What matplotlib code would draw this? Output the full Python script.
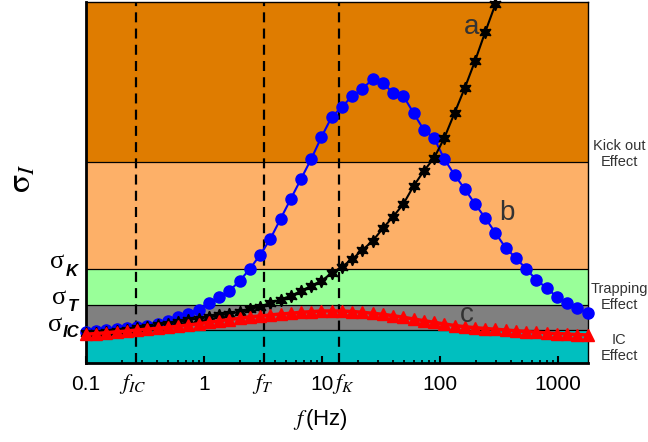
import matplotlib
matplotlib.use('Agg')
import matplotlib.pyplot as plt

plt.rcParams['font.family'] = ['Liberation Sans', 'DejaVu Sans']
plt.rcParams['mathtext.fontset'] = 'stix'

# ---- data (sigma in arbitrary units) ----
freq = [0.1, 0.1221, 0.1491, 0.1821, 0.2223, 0.2715, 0.3315, 0.4048, 0.4943, 0.6036,
        0.7371, 0.9001, 1.099, 1.342, 1.639, 2.001, 2.444, 2.984, 3.644, 4.449,
        5.433, 6.634, 8.101, 9.892, 12.08, 14.75, 18.01, 21.99, 26.86, 32.79,
        40.05, 48.90, 59.71, 72.92, 89.04, 108.7, 132.8, 162.1, 198.0, 241.7,
        295.2, 360.5, 440.2, 537.5, 656.4, 801.5, 978.7, 1195, 1459, 1782]

sigma_a = [30, 30.5, 31.5, 32.5, 33.5, 35, 36.5, 38, 39.5, 41,
           43, 44.5, 46, 47.7, 49, 51.3, 54, 56.3, 60, 63.5,
           67, 72, 77, 82.3, 89.7, 96.3, 103.7, 113, 122, 134.7,
           146.3, 159, 177, 192, 205, 225, 250, 275, 302, 331, 359]

sigma_b = [31, 32, 33, 34, 35, 36, 37.5, 39, 42, 46,
           49.5, 53.5, 60, 66, 72, 82, 94, 108, 124, 144,
           164, 184, 204, 226, 246, 256, 267, 274, 284, 280,
           270, 267, 250, 233, 225, 204, 188, 174, 159, 145,
           130, 115, 105, 94, 83, 75, 66, 60, 55, 50]

sigma_c = [28.7, 29.5, 30.3, 31.2, 32, 33, 33.8, 34.7, 35.7, 36.8,
           38, 39.2, 40.7, 42.2, 43.5, 44.7, 46.2, 47, 48, 49,
           49.7, 50.7, 51.3, 52, 52, 52, 51.5, 50.7, 49.7, 48.7,
           47.3, 45.7, 44, 42.3, 40.7, 39, 37.5, 36.3, 35.3, 34.5,
           33.7, 33, 32.2, 31.5, 30.8, 30, 29.5, 29, 28.5, 28]

band_edges = [0, 33, 58, 94, 201, 362]
band_colors = ['#00BFBF', '#808080', '#99FF99', '#FDB068', '#DF7C00']
sigma_levels = [94, 58, 33]
sigma_names = ['K', 'T', 'IC']
f_marks = [0.265, 3.22, 13.9]
f_mark_names = ['IC', 'T', 'K']
xticks = [0.1, 1, 10, 100, 1000]
xticklabels = ['0.1', '1', '10', '100', '1000']
effect_labels = ['Kick out\nEffect', 'Trapping\nEffect', 'IC\nEffect']

W, H = 648, 442
fig = plt.figure(figsize=(W / 100, H / 100), dpi=100)
ax = fig.add_axes([86 / W, 1 - 363 / H, 502 / W, 361 / H])

def fx(px):
    return px / W

def fy(py):
    return 1 - py / H

for lo, hi, c in zip(band_edges[:-1], band_edges[1:], band_colors):
    ax.axhspan(lo, hi, color=c, zorder=0, lw=0)
for e in band_edges[1:-1]:
    ax.axhline(e, color='black', lw=0.9, zorder=1)

for fm in f_marks:
    ax.axvline(fm, color='black', lw=1.6, ls=(0, (4.5, 2.8)), zorder=2)

ax.plot(freq, sigma_b, color='#0000FF', lw=1.5, marker='o', ms=8,
        zorder=3, clip_on=False)
ax.plot(freq[:len(sigma_a)], sigma_a, color='black', lw=1.5, marker=(6, 1, 0),
        ms=9, zorder=4, clip_on=False)
ax.plot(freq, sigma_c, color='#FF0000', lw=2.5, marker='^', ms=8.5,
        zorder=5, clip_on=False)

ax.set_xscale('log')
ax.set_xlim(0.1, 1795)
ax.set_ylim(0, 361)
ax.set_xticks(xticks)
ax.set_xticklabels(xticklabels, fontsize=15)
ax.set_yticks([])
ax.tick_params(axis='x', which='major', direction='in', length=5, width=1.5,
               pad=9, top=False)
ax.tick_params(axis='x', which='minor', direction='in', length=2.5, width=1.2,
               top=False)

for s in ['left', 'bottom']:
    ax.spines[s].set_linewidth(2)
for s in ['top', 'right']:
    ax.spines[s].set_linewidth(1)

# f marker labels below axis
f_label_px = [133, 263, 343]
for name, px in zip(f_mark_names, f_label_px):
    fig.text(fx(px), fy(384), r'$f_{%s}$' % name, fontsize=16,
             ha='center', va='center')

# x label
fig.text(fx(320), fy(420), r'$f\,$(Hz)', fontsize=16, ha='center', va='center')

# y label
fig.text(fx(22), fy(178), r'$\mathrm{\sigma}_{I}$', fontsize=24, rotation=90,
         ha='center', va='center')

# sigma level labels
sig_pos = [((57.5, 261.5), (71.5, 271)),
           ((59.5, 298.5), (72.5, 306.5)),
           ((55, 325), (71, 332.5))]
for name, ((sx, sy), (kx, ky)) in zip(sigma_names, sig_pos):
    fig.text(fx(sx), fy(sy), 'σ', fontsize=19, family='Liberation Serif',
             ha='center', va='center')
    fig.text(fx(kx), fy(ky), name, fontsize=12, fontweight='bold',
             style='italic', ha='center', va='center')

# curve labels
for lab, (px, py) in zip(['a', 'b', 'c'], [(472, 27), (507, 213), (467, 315)]):
    fig.text(fx(px), fy(py), lab, fontsize=20, color='#333333',
             ha='center', va='center')

# effect labels on right
for lab, py in zip(effect_labels, [154, 297, 348]):
    fig.text(fx(619), fy(py), lab, fontsize=10.5, color='#333333',
             ha='center', va='center', linespacing=1.15)

fig.savefig('out.png', dpi=100)
